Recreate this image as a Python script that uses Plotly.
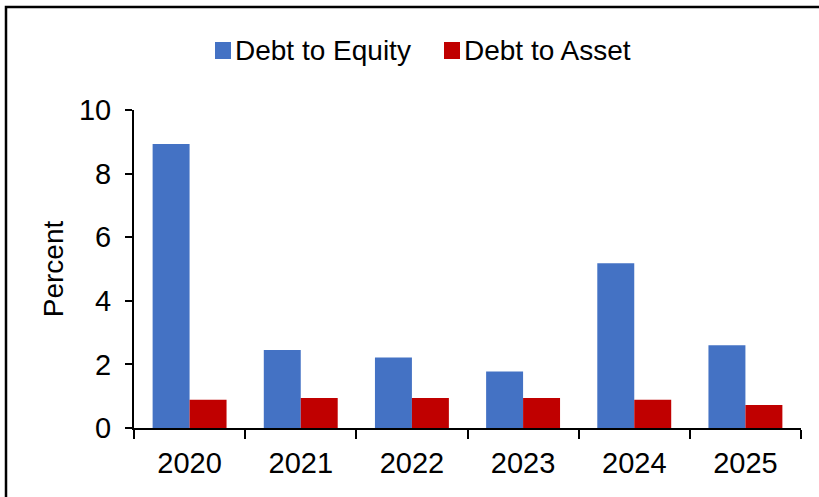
import plotly.graph_objects as go

years = ["2020", "2021", "2022", "2023", "2024", "2025"]
debt_to_equity = [8.93, 2.45, 2.22, 1.78, 5.18, 2.60]
debt_to_asset = [0.89, 0.94, 0.94, 0.94, 0.89, 0.72]
series_names = ["Debt to Equity", "Debt to Asset"]
series_colors = ["#4472C4", "#C00000"]

W, H = 819, 497
ML, MR, MT, MB = 134, 18, 110, 69
PW, PH = W - ML - MR, H - MT - MB


def px_x(x):
    return (x - ML) / PW


def px_y(y):
    return (H - MB - y) / PH


FONT = "Liberation Sans, Arial, sans-serif"

fig = go.Figure()
for name, vals, color in zip(series_names, [debt_to_equity, debt_to_asset], series_colors):
    fig.add_trace(go.Bar(x=years, y=vals, name=name, marker=dict(color=color, line=dict(width=0)),
                         showlegend=False))

# legend drawn as colour swatches plus labels
shapes = []
annotations = []
for name, color, sx in zip(series_names, series_colors, [215, 444]):
    shapes.append(dict(type="rect", xref="paper", yref="paper",
                       x0=px_x(sx), x1=px_x(sx + 16), y0=px_y(59), y1=px_y(42),
                       fillcolor=color, line=dict(width=0)))
    annotations.append(dict(text=name, xref="paper", yref="paper", x=px_x(sx + 18), y=px_y(50.5),
                            xanchor="left", yanchor="middle", showarrow=False,
                            font=dict(family=FONT, size=28, color="#000")))

# outer frame of the chart area
shapes.append(dict(type="rect", xref="paper", yref="paper",
                   x0=px_x(6), x1=px_x(W + 20), y0=px_y(H + 20), y1=px_y(7),
                   line=dict(color="#000", width=2.5), fillcolor="rgba(0,0,0,0)"))

fig.update_layout(
    width=W, height=H,
    margin=dict(l=ML, r=MR, t=MT, b=MB),
    paper_bgcolor="white", plot_bgcolor="white",
    barmode="group", bargap=0.335, bargroupgap=0,
    font=dict(family=FONT, size=29, color="#000"),
    shapes=shapes, annotations=annotations,
    xaxis=dict(type="category", showline=True, linecolor="#000", linewidth=2,
               ticks="outside", tickson="boundaries", ticklen=9, tickwidth=2, tickcolor="#000",
               showgrid=False, zeroline=False, tickfont=dict(size=29), ticklabelstandoff=8),
    yaxis=dict(range=[0, 10], dtick=2, showline=True, linecolor="#000", linewidth=2,
               ticks="outside", ticklen=7, tickwidth=2, tickcolor="#000",
               showgrid=False, zeroline=False, tickfont=dict(size=29), ticklabelstandoff=8,
               title=dict(text="Percent", font=dict(size=28), standoff=7)),
)

fig.write_html("out.html")
